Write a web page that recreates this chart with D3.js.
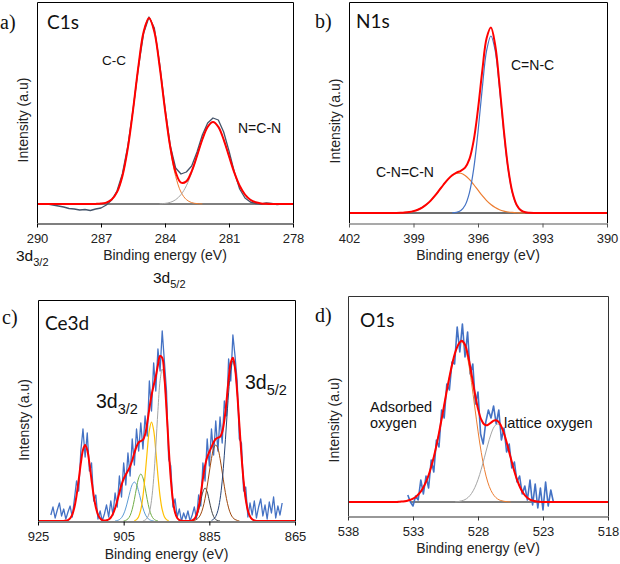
<!DOCTYPE html>
<html><head><meta charset="utf-8">
<script src="https://cdn.jsdelivr.net/npm/d3@7"></script>
<style>body{margin:0;background:#fff}svg{display:block}</style>
</head><body>
<svg id="fig" width="620" height="564"></svg>
<script>
// ---------- Panel a) C1s (grid step 0.25 eV) ----------
const c1sTicks = [290, 287, 284, 281, 278];
const c1sCCStart = 287.25;
const c1sCC = [0.1,0.4,1.4,4.4,11.9,27.6,54.9,93.6,137.1,172.3,186,172.3,137.1,93.6,54.9,27.6,11.9,4.4,1.4,0.4,0.1];
const c1sNCNStart = 284.25;
const c1sNCN = [0.2,0.6,1.7,4.3,9.4,18.2,31.3,47.7,64.4,77.2,82,77.2,64.4,47.7,31.3,18.2,9.4,4.3,1.7,0.6,0.2];
const c1sRawStart = 289.5;
const c1sRaw = [0,-1,-2,-3,-4.5,-5,-6,-5.5,-6.5,-5,-4,-1,4,13,30,57,94,136,171,187,176,140,96,58,36,30,32,38,52,69,81,86,84,72,53,32,15,6,2,0.5,0,1,0.5,-0.5,0];

// ---------- Panel b) N1s (grid step 0.2 eV) ----------
const n1sTicks = [402, 399, 396, 393, 390];
const n1sCNCNStart = 400.0;
const n1sCNCN = [0.05,0.12,0.26,0.53,1.03,1.89,3.29,5.41,8.43,12.42,17.31,22.84,28.50,33.64,37.58,39.72,39.72,37.58,33.64,28.50,22.84,17.31,12.42,8.43,5.41,3.29,1.89,1.03,0.53,0.26,0.12,0.05];
const n1sCNCStart = 397.2;
const n1sCNC = [0.2,0.7,2.5,7.8,20.2,44.1,81.0,125.1,162.3,177,162.3,125.1,81.0,44.1,20.2,7.8,2.5,0.7,0.2];

// ---------- Panel c) Ce3d (grid step 0.5 eV) ----------
const ceTicks = [925, 905, 885, 865];
const ceP1Start = 919;   const ceP1 = [0.1,0.3,0.9,2.6,6.4,13.7,25.4,41.0,57.8,71.0,76,71.0,57.8,41.0,25.4,13.7,6.4,2.6,0.9,0.3,0.1];
const ceHStart = 909.5;  const ceH = [0.2,0.6,1.5,3.5,7.1,12.6,19.7,27.1,32.8,35,32.8,27.1,19.7,12.6,7.1,3.5,1.5,0.6,0.2];
const ceLBStart = 907;   const ceLB = [0.15,0.5,1.4,3.3,7.0,13.0,21.0,29.6,36.4,39,36.4,29.6,21.0,13.0,7.0,3.3,1.4,0.5,0.15];
const ceGStart = 905;    const ceG = [0.2,0.7,2.1,5.4,11.7,21.5,33.2,43.1,47,43.1,33.2,21.5,11.7,5.4,2.1,0.7,0.2];
const ceYStart = 902.5;  const ceY = [0.4,1.4,4.3,11.3,24.7,45.3,70.0,90.8,99,90.8,70.0,45.3,24.7,11.3,4.3,1.4,0.4];
const ceGRStart = 900.5; const ceGR = [0.2,0.9,3.0,8.5,20.6,42.3,74.0,110.4,140.3,152,140.3,110.4,74.0,42.3,20.6,8.5,3.0,0.9,0.2];
const ceDKStart = 889.5; const ceDK = [0.1,0.4,1.4,4.5,10.7,20.0,29.1,33,29.1,20.0,10.7,4.5,1.4,0.4,0.1];
const ceBRStart = 889;   const ceBR = [0.2,0.6,1.5,3.3,6.9,13.1,22.4,34.8,49.0,62.5,72.4,76,72.4,62.5,49.0,34.8,22.4,13.1,6.9,3.3,1.5,0.6,0.2];
const ceNVStart = 884.5; const ceNV = [0.6,1.8,4.6,10.5,21.6,39.9,65.8,97.0,128.1,151.4,160,151.4,128.1,97.0,65.8,39.9,21.6,10.5,4.6,1.8,0.6];
const ceRawStart = 922;
const ceRaw = [6,14,3,11,18,5,12,2,9,15,4,22,40,30,70,92,64,88,50,58,20,26,2,10,0,7,16,4,20,6,28,14,45,24,58,36,68,45,82,56,92,70,98,72,105,85,140,110,158,130,172,150,190,160,130,62,55,14,22,4,12,0,8,2,10,0,6,14,2,26,15,58,40,82,55,92,66,100,70,104,78,120,105,162,140,186,165,140,82,78,30,34,4,18,6,20,3,14,22,5,16,2,19,8,24,3,15,6,18];

// ---------- Panel d) O1s (fit grid 0.25 eV, raw grid 0.2 eV) ----------
const o1sTicks = [538, 533, 528, 523, 518];
const o1sAdsStart = 534.0;
const o1sAds = [0.3,0.6,1.1,2.0,3.4,5.6,8.8,13.6,20.1,28.8,39.9,53.4,69.1,86.3,104.2,121.6,137.1,149.4,157.3,160,154.9,140.5,119.4,95.0,70.9,49.6,32.5,19.9,11.5,6.2,3.1,1.5,0.7,0.3,0.1];
const o1sLatStart = 529.75;
const o1sLat = [0.2,0.5,1.2,2.4,4.7,8.5,14.3,22.4,32.8,44.8,57.1,67.9,75.3,78,75.3,67.9,57.1,44.8,32.8,22.4,14.3,8.5,4.7,2.4,1.2,0.5,0.2];
const o1sRawStart = 533.4;
const o1sRaw = [7,0,-4,6,2,22,8,26,14,42,30,62,55,92,84,118,112,140,138,175,150,178,145,170,128,138,98,110,68,58,80,92,84,96,78,92,62,74,50,58,34,40,20,26,8,16,2,22,-3,18,-6,14,-8,20,-4,12,0];
const o1sBaseline = [533.2, 523.2];

// ---------- helpers ----------
const SANS = "'Liberation Sans', Arial, sans-serif";
const TITLE = "Lato, 'Open Sans', sans-serif";
const SERIF = "'Liberation Serif', 'Times New Roman', serif";
const svg = d3.select('#fig');

function series(start, step, values) {
  return values.map((v, i) => ({e: +(start - step * i).toFixed(3), v}));
}
function envelope(gStart, gEnd, step, comps) {
  const n = Math.round((gStart - gEnd) / step), out = [];
  for (let i = 0; i <= n; i++) {
    const e = gStart - step * i; let s = 0;
    comps.forEach(c => { const j = Math.round((c.start - e) / step); if (j >= 0 && j < c.values.length) s += c.values[j]; });
    out.push({e: +e.toFixed(3), v: s});
  }
  return out;
}

let clipId = 0;
function drawPanel(p) {
  const f = p.frame;
  const x = d3.scaleLinear().domain(p.xDomain).range([f.l, f.r]);
  const y = d3.scaleLinear().domain(p.yDomain).range([f.b, f.t]);
  const g = svg.append('g');
  const cid = 'clip' + (clipId++);
  g.append('clipPath').attr('id', cid).append('rect')
    .attr('x', f.l).attr('y', f.t).attr('width', f.r - f.l).attr('height', f.b - f.t);
  const plot = g.append('g').attr('clip-path', `url(#${cid})`);
  const smooth = d3.line().x(d => x(d.e)).y(d => y(d.v)).curve(d3.curveCatmullRom.alpha(0.5));
  const straight = d3.line().x(d => x(d.e)).y(d => y(d.v));

  if (p.baseline) {
    plot.append('line').attr('x1', x(p.baseline.from)).attr('x2', x(p.baseline.to))
      .attr('y1', y(0)).attr('y2', y(0)).attr('stroke', p.baseline.color).attr('stroke-width', p.baseline.width);
  }
  p.lines.forEach(s => {
    plot.append('path').datum(s.data).attr('fill', 'none').attr('stroke', s.color)
      .attr('stroke-width', s.width).attr('stroke-linejoin', 'round')
      .attr('d', s.raw ? straight : smooth);
  });
  // frame
  g.append('path').attr('fill', 'none').attr('stroke', p.frameColor).attr('stroke-width', 1)
    .attr('d', `M${f.l + 0.5},${f.b}V${f.t + 0.5}H${f.r + 0.5}V${f.b}`);
  // x axis
  const ax = g.append('g').attr('transform', `translate(0,${f.b + 0.5})`)
    .call(d3.axisBottom(x).tickValues(p.ticks).tickSize(4).tickSizeOuter(0).tickPadding(6).tickFormat(d3.format('d')));
  ax.select('.domain').attr('stroke', p.axisColor).attr('stroke-width', 1.2);
  ax.selectAll('.tick line').attr('stroke', p.axisColor);
  ax.selectAll('.tick text').attr('fill', '#222').style('font-family', SANS).style('font-size', '13px');
  // axis titles
  g.append('text').attr('x', (f.l + f.r) / 2).attr('y', p.xTitleY).attr('text-anchor', 'middle')
    .style('font-family', SANS).style('font-size', '14px').attr('fill', '#222').text('Binding energy (eV)');
  g.append('text').attr('transform', `translate(${p.yTitle[0]},${p.yTitle[1]}) rotate(-90)`).attr('text-anchor', 'middle')
    .style('font-family', SANS).style('font-size', '14px').attr('fill', '#222').text(p.yTitleText);
  // panel letter & title
  g.append('text').attr('x', p.letter[0]).attr('y', p.letter[1]).style('font-family', SERIF)
    .style('font-size', '20px').attr('fill', '#111').text(p.letterText);
  g.append('text').attr('x', p.title[0]).attr('y', p.title[1]).style('font-family', TITLE)
    .style('font-size', '19px').attr('fill', '#111').text(p.titleText);
  (p.labels || []).forEach(l => {
    const t = g.append('text').attr('x', l.x).attr('y', l.y).style('font-family', SANS)
      .style('font-size', (l.size || 14) + 'px').attr('fill', '#111');
    if (l.sub) {
      t.append('tspan').text(l.text);
      t.append('tspan').attr('dy', l.subDy).style('font-size', l.subSize + 'px').text(l.sub);
    } else t.text(l.text);
  });
}

// ---------- build panels ----------
const aComps = [{start: c1sCCStart, values: c1sCC}, {start: c1sNCNStart, values: c1sNCN}];
drawPanel({
  frame: {l: 37, r: 293, t: 2, b: 223}, xDomain: [290, 278], ticks: c1sTicks, yDomain: [-19, 202],
  frameColor: '#000', axisColor: '#000', xTitleY: 259.5, yTitle: [28, 120], yTitleText: 'Intensity (a.u)',
  letter: [0, 29], letterText: 'a)', title: [47, 29], titleText: 'C1s',
  baseline: {from: 290, to: 278, color: '#000', width: 1},
  lines: [
    {data: series(c1sRawStart, 0.25, c1sRaw), color: '#44546A', width: 1.3, raw: true},
    {data: series(c1sCCStart, 0.25, c1sCC), color: '#ED7D31', width: 1},
    {data: series(c1sNCNStart, 0.25, c1sNCN), color: '#A5A5A5', width: 1},
    {data: envelope(290, 278, 0.25, aComps), color: '#FF0000', width: 2}
  ],
  labels: [{x: 102, y: 65, text: 'C-C', size: 13.5}, {x: 238, y: 133, text: 'N=C-N', size: 14}]
});

const bComps = [{start: n1sCNCNStart, values: n1sCNCN}, {start: n1sCNCStart, values: n1sCNC}];
drawPanel({
  frame: {l: 349, r: 607, t: 2, b: 223}, xDomain: [402, 390], ticks: n1sTicks, yDomain: [-10, 211],
  frameColor: '#000', axisColor: '#555', xTitleY: 260, yTitle: [340, 121], yTitleText: 'Intensity (a.u)',
  letter: [315, 28], letterText: 'b)', title: [356, 28], titleText: 'N1s',
  baseline: {from: 402, to: 390, color: '#404040', width: 1.5},
  lines: [
    {data: series(n1sCNCNStart, 0.2, n1sCNCN), color: '#ED7D31', width: 1.2},
    {data: series(n1sCNCStart, 0.2, n1sCNC), color: '#4472C4', width: 1.2},
    {data: envelope(402, 390, 0.2, bComps), color: '#FF0000', width: 2}
  ],
  labels: [{x: 511, y: 70, text: 'C=N-C'}, {x: 376, y: 177, text: 'C-N=C-N'}]
});

const cComps = [
  {start: ceP1Start, values: ceP1}, {start: ceHStart, values: ceH}, {start: ceLBStart, values: ceLB},
  {start: ceGStart, values: ceG}, {start: ceYStart, values: ceY}, {start: ceGRStart, values: ceGR},
  {start: ceDKStart, values: ceDK}, {start: ceBRStart, values: ceBR}, {start: ceNVStart, values: ceNV}
];
drawPanel({
  frame: {l: 38, r: 295, t: 300, b: 521}, xDomain: [925, 865], ticks: ceTicks, yDomain: [0, 221],
  frameColor: '#000', axisColor: '#000', xTitleY: 558.5, yTitle: [29, 420], yTitleText: 'Intensty (a.u)',
  letter: [2, 324], letterText: 'c)', title: [45, 330], titleText: 'Ce3d',
  lines: [
    {data: series(ceRawStart, 0.5, ceRaw), color: '#4472C4', width: 1.3, raw: true},
    {data: series(ceLBStart, 0.5, ceLB), color: '#5B9BD5', width: 1},
    {data: series(ceGStart, 0.5, ceG), color: '#70AD47', width: 1},
    {data: series(ceYStart, 0.5, ceY), color: '#FFC000', width: 1.2},
    {data: series(ceGRStart, 0.5, ceGR), color: '#A5A5A5', width: 1},
    {data: series(ceDKStart, 0.5, ceDK), color: '#404040', width: 1},
    {data: series(ceBRStart, 0.5, ceBR), color: '#9E480E', width: 1},
    {data: series(ceNVStart, 0.5, ceNV), color: '#264478', width: 1},
    {data: envelope(925, 865, 0.5, cComps), color: '#FF0000', width: 2}
  ],
  labels: [
    {x: 96, y: 408, text: '3d', size: 19.5, sub: '3/2', subSize: 14.5, subDy: 6},
    {x: 245, y: 389, text: '3d', size: 19.5, sub: '5/2', subSize: 14.5, subDy: 6}
  ]
});

const dComps = [{start: o1sAdsStart, values: o1sAds}, {start: o1sLatStart, values: o1sLat}];
drawPanel({
  frame: {l: 348, r: 608, t: 296, b: 516}, xDomain: [538, 518], ticks: o1sTicks, yDomain: [-14, 206],
  frameColor: '#333', axisColor: '#333', xTitleY: 552.5, yTitle: [339, 420], yTitleText: 'Intensity (a.u)',
  letter: [315, 322], letterText: 'd)', title: [360, 327], titleText: 'O1s',
  baseline: {from: o1sBaseline[0], to: o1sBaseline[1], color: '#000', width: 1},
  lines: [
    {data: series(o1sRawStart, 0.2, o1sRaw), color: '#4472C4', width: 1.6, raw: true},
    {data: series(o1sAdsStart, 0.25, o1sAds), color: '#ED7D31', width: 1},
    {data: series(o1sLatStart, 0.25, o1sLat), color: '#A5A5A5', width: 1},
    {data: envelope(538, 518, 0.25, dComps), color: '#FF0000', width: 2}
  ],
  labels: [
    {x: 370, y: 412, text: 'Adsorbed', size: 14.5}, {x: 370, y: 428, text: 'oxygen', size: 14.5},
    {x: 504, y: 428, text: 'lattice oxygen', size: 14.5}
  ]
});

// stray sub-shell labels between panels a and c
[{x: 16, y: 261, text: '3d', sub: '3/2'}, {x: 153, y: 283, text: '3d', sub: '5/2'}].forEach(l => {
  const t = svg.append('text').attr('x', l.x).attr('y', l.y).style('font-family', SANS)
    .style('font-size', '15.5px').attr('fill', '#111');
  t.append('tspan').text(l.text);
  t.append('tspan').attr('dy', 5).style('font-size', '11px').text(l.sub);
});
</script>
</body></html>
